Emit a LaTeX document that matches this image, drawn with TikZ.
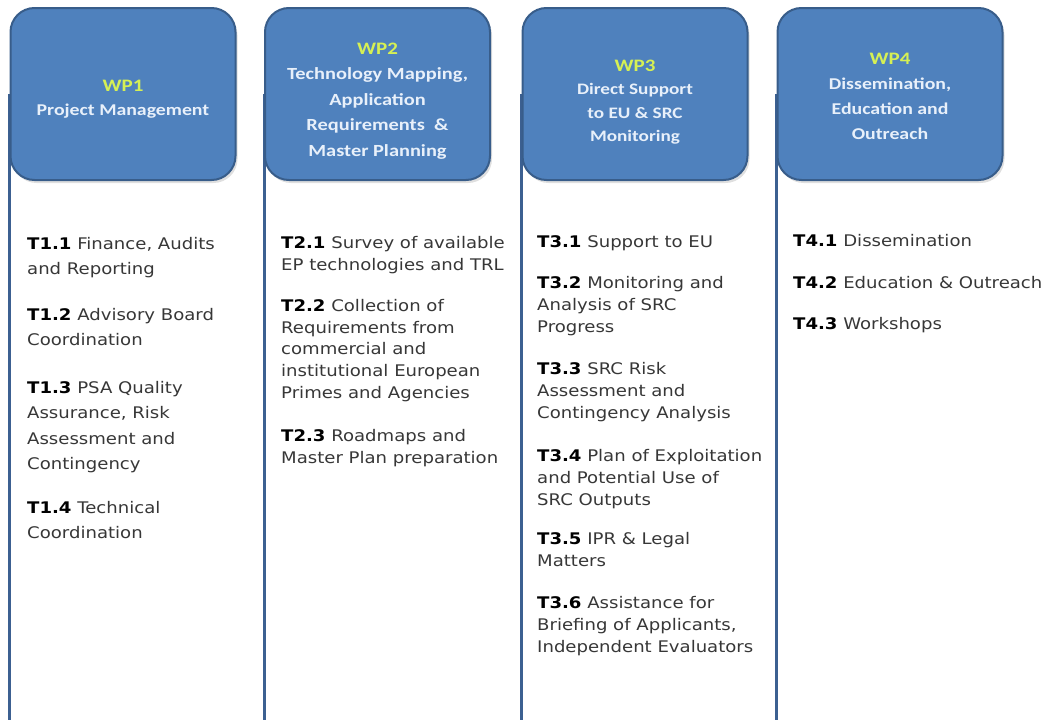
\documentclass[tikz,border=0pt]{standalone}
\usepackage{fontspec}
\setmainfont[FakeStretch=1.13]{DejaVu Sans}
\newfontfamily\hdfont[FakeStretch=1.2]{Carlito}
\usepackage{tikz}
\usetikzlibrary{positioning, shadows, backgrounds}
\definecolor{wpblue}{RGB}{79,129,189}
\definecolor{wpedge}{RGB}{56,93,138}
\definecolor{wpline}{RGB}{60,96,145}
\definecolor{wpgreen}{RGB}{214,240,84}
\definecolor{wpwhite}{RGB}{232,240,250}
\definecolor{tasktext}{RGB}{55,55,55}
\tikzset{wpbox/.style={draw=wpedge, line width=2pt, fill=wpblue, rounded corners=24pt,
    minimum width=225pt, minimum height=172pt,
    drop shadow={opacity=0.25, shadow xshift=2pt, shadow yshift=-3pt}},
  hdtext/.style 2 args={align=center, text=wpwhite, inner sep=0pt,
    font=\hdfont\bfseries\fontsize{#1}{#2}\selectfont},
  colline/.style={draw=wpline, line width=3pt},
  task/.style={anchor=north west, inner sep=0pt, align=left, text=tasktext}}
\newcommand{\wplabel}[1]{{\fontsize{17.5}{24}\selectfont\textcolor{wpgreen}{#1}}}
\newcommand{\tasklabel}[1]{\textbf{\color{black}#1}}

\begin{document}
\begin{tikzpicture}[x=1pt, y=-1pt]
\useasboundingbox (0,0) rectangle (1045,720);
\coordinate (bot) at (0,720);
% work package headers
\node[wpbox] (wp1) at (123,94) {};
\node[wpbox] (wp2) at (377.5,94) {};
\node[wpbox] (wp3) at (635,94) {};
\node[wpbox] (wp4) at (890,94) {};
\node[hdtext={16.5}{24}] (hd1) at ([yshift=-5pt]wp1.center) {\wplabel{WP1}\\Project Management};
\node[hdtext={17}{25.5}] (hd2) at ([yshift=-7pt]wp2.center) {\wplabel{WP2}\\Technology Mapping,\\Application\\Requirements \ \&\\Master Planning};
\node[hdtext={16}{23.5}] (hd3) at ([yshift=-8pt]wp3.center) {\wplabel{WP3}\\Direct Support\\to EU \& SRC\\Monitoring};
\node[hdtext={16.5}{25}] (hd4) at ([yshift=-2pt]wp4.center) {\wplabel{WP4}\\Dissemination,\\Education and\\Outreach};
% column lines
\begin{scope}[on background layer]
\draw[colline] (wp1.west) -- (wp1.west |- bot);
\draw[colline] (wp2.west) -- (wp2.west |- bot);
\draw[colline] (wp3.west) -- (wp3.west |- bot);
\draw[colline] (wp4.west) -- (wp4.west |- bot);
\end{scope}
% WP1 tasks
\begin{scope}[font=\fontsize{16}{25.5}\selectfont]
\node[task] (t11) at (27,237) {\tasklabel{T1.1} Finance, Audits\\and Reporting};
\node[task] (t12) at (27,308) {\tasklabel{T1.2} Advisory Board\\Coordination};
\node[task] (t13) at (27,381) {\tasklabel{T1.3} PSA Quality\\Assurance, Risk\\Assessment and\\Contingency};
\node[task] (t14) at (27,501) {\tasklabel{T1.4} Technical\\Coordination};
\end{scope}
% WP2 tasks
\begin{scope}[font=\fontsize{16}{21.7}\selectfont]
\node[task] (t21) at (281,236) {\tasklabel{T2.1} Survey of available\\EP technologies and TRL};
\node[task] (t22) at (281,299) {\tasklabel{T2.2} Collection of\\Requirements from\\commercial and\\institutional European\\Primes and Agencies};
\node[task] (t23) at (281,429) {\tasklabel{T2.3} Roadmaps and\\Master Plan preparation};
\end{scope}
% WP3 tasks
\begin{scope}[font=\fontsize{16}{22}\selectfont]
\node[task] (t31) at (537,235) {\tasklabel{T3.1} Support to EU};
\node[task] (t32) at (537,276) {\tasklabel{T3.2} Monitoring and\\Analysis of SRC\\Progress};
\node[task] (t33) at (537,362) {\tasklabel{T3.3} SRC Risk\\Assessment and\\Contingency Analysis};
\node[task] (t34) at (537,449) {\tasklabel{T3.4} Plan of Exploitation\\and Potential Use of\\SRC Outputs};
\node[task] (t35) at (537,532) {\tasklabel{T3.5} IPR \& Legal\\Matters};
\node[task] (t36) at (537,596) {\tasklabel{T3.6} Assistance for\\Briefing of Applicants,\\Independent Evaluators};
\end{scope}
% WP4 tasks
\begin{scope}[font=\fontsize{16}{22}\selectfont]
\node[task] (t41) at (793,234) {\tasklabel{T4.1} Dissemination};
\node[task] (t42) at (793,276) {\tasklabel{T4.2} Education \& Outreach};
\node[task] (t43) at (793,317) {\tasklabel{T4.3} Workshops};
\end{scope}
\end{tikzpicture}
\end{document}
